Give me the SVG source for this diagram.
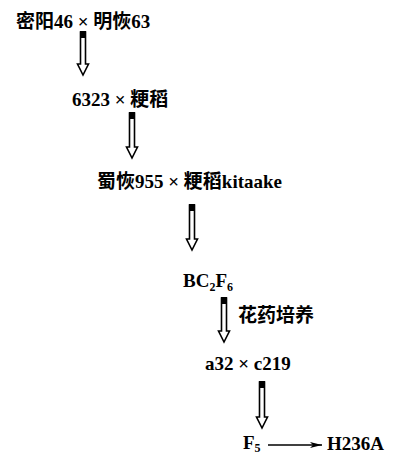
<svg xmlns="http://www.w3.org/2000/svg" width="393" height="457" viewBox="0 0 393 457">
<style>
text{font-family:"Liberation Serif","Noto Sans CJK SC",serif;font-size:19px;font-weight:bold;fill:#000}
.sub{font-size:12px}
.arr{fill:#fff;stroke:#000;stroke-width:1.6;stroke-linejoin:miter}
.cap{fill:#000}
.ln{stroke:#000;stroke-width:1.3;fill:none}
</style>
<defs>
<marker id="ah" viewBox="0 0 12 6" refX="12" refY="3" markerWidth="12" markerHeight="6" markerUnits="userSpaceOnUse" orient="auto">
<path d="M0,0 L12,3 L0,6 L3,3 Z" fill="#000"/>
</marker>
</defs>
<g id="n1"><text x="16" y="28">密阳46 × 明恢63</text></g>
<g id="n2"><text x="72" y="106">6323 × 粳稻</text></g>
<g id="n3"><text x="97" y="188">蜀恢955 × 粳稻kitaake</text></g>
<g id="n4"><text x="183" y="287">BC<tspan class="sub" dy="4">2</tspan><tspan dy="-4">F</tspan><tspan class="sub" dy="4">6</tspan></text></g>
<g id="n5"><text x="205" y="370">a32 × c219</text></g>
<g id="n6"><text x="243" y="449">F<tspan class="sub" dy="3">5</tspan></text></g>
<g id="n7"><text x="327" y="450">H236A</text></g>
<g id="connectors">
<g id="a1"><path class="arr" d="M80.5,32 L85.5,32 L85.5,64 L88.5,64 L83,75 L77.5,64 L80.5,64 Z"/><rect class="cap" x="80" y="31" width="6" height="7"/></g>
<g id="a2"><path class="arr" d="M129.5,113 L134.5,113 L134.5,147 L137.5,147 L132,158 L126.5,147 L129.5,147 Z"/><rect class="cap" x="129" y="112" width="6" height="7"/></g>
<g id="a3"><path class="arr" d="M189.5,205 L194.5,205 L194.5,239 L197.5,239 L192,250 L186.5,239 L189.5,239 Z"/><rect class="cap" x="189" y="204" width="6" height="7"/></g>
<g id="a4"><path class="arr" d="M221.5,298 L226.5,298 L226.5,331 L229.5,331 L224,342 L218.5,331 L221.5,331 Z"/><rect class="cap" x="221" y="297" width="6" height="7"/></g>
<text x="238" y="322">花药培养</text>
<g id="a5"><path class="arr" d="M259.5,382 L264.5,382 L264.5,417 L267.5,417 L262,428 L256.5,417 L259.5,417 Z"/><rect class="cap" x="259" y="381" width="6" height="7"/></g>
<line class="ln" x1="268" y1="445" x2="322" y2="445" marker-end="url(#ah)"/>
</g>
</svg>
